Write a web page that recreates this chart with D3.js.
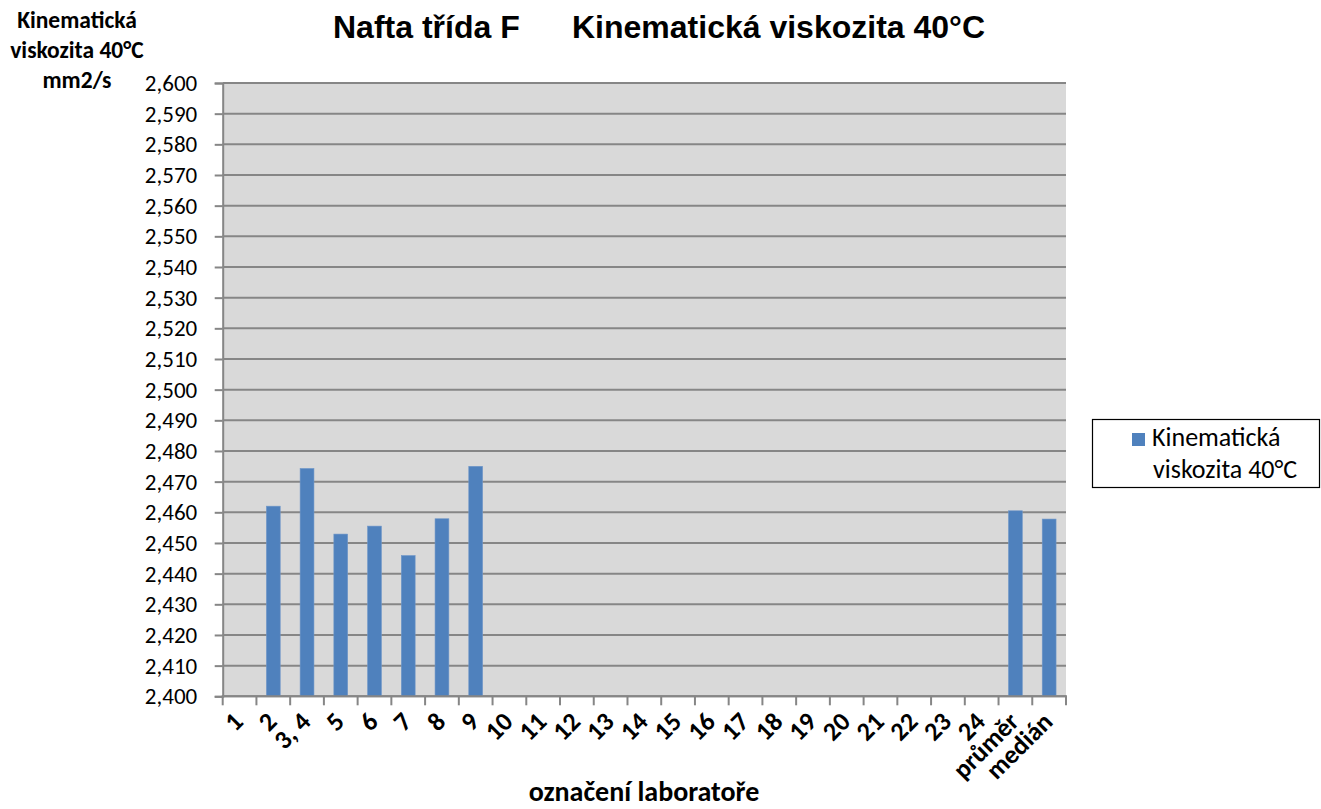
<!DOCTYPE html>
<html><head><meta charset="utf-8">
<script src="https://d3js.org/d3.v7.min.js"></script>
<style>
html,body{margin:0;padding:0;background:#fff;}
svg{display:block;}
</style></head>
<body>
<script>
const categories = ["1","2","3, 4","5","6","7","8","9","10","11","12","13","14","15","16","17","18","19","20","21","22","23","24","průměr","medián"];
const values = [null,2.462,2.4743,2.4529,2.4555,2.4459,2.4579,2.4750,null,null,null,null,null,null,null,null,null,null,null,null,null,null,null,2.4605,2.4578];
const seriesName = "Kinematická viskozita 40°C";
const yTicks = d3.range(2.400, 2.6001, 0.01);
const titleLeft = "Nafta třída F";
const titleRight = "Kinematická viskozita 40°C";
const yTitle = ["Kinematická","viskozita 40°C","mm2/s"];
const xTitle = "označení laboratoře";
const legendLines = ["Kinematická","viskozita 40°C"];

const W = 1321, H = 809;
const plot = {l: 222.7, r: 1066, t: 83, b: 696.3};
const font = "Carlito, Calibri, Lato, sans-serif";
const gridC = "#868686";

const svg = d3.select("body").append("svg").attr("width", W).attr("height", H);

const x = d3.scaleBand().domain(categories).range([plot.l, plot.r]).paddingInner(0.59).paddingOuter(0.295);
const y = d3.scaleLinear().domain([2.4, 2.6]).range([plot.b, plot.t]);

svg.append("rect").attr("x", plot.l).attr("y", plot.t).attr("width", plot.r - plot.l).attr("height", plot.b - plot.t).attr("fill", "#D9D9D9");

// gridlines
svg.append("g").selectAll("line").data(yTicks).join("line")
  .attr("x1", plot.l).attr("x2", plot.r)
  .attr("y1", d => y(d)).attr("y2", d => y(d))
  .attr("stroke", gridC).attr("stroke-width", 2);

// bars
const data = categories.map((c, i) => ({c, v: values[i]})).filter(d => d.v != null);
svg.append("g").selectAll("rect").data(data).join("rect")
  .attr("x", d => x(d.c)).attr("width", x.bandwidth())
  .attr("y", d => y(d.v)).attr("height", d => y(2.4) - y(d.v))
  .attr("fill", "#4F81BD").attr("stroke", "#7097C8").attr("stroke-width", 0.6);

// y axis
const fmt = v => d3.format(".3f")(v).replace(".", ",");
const yAxis = svg.append("g").attr("transform", `translate(${plot.l},0)`)
  .call(d3.axisLeft(y).tickValues(yTicks).tickSize(8).tickPadding(17.5).tickFormat(fmt));
yAxis.select(".domain").attr("stroke", gridC).attr("stroke-width", 2);
yAxis.selectAll(".tick line").attr("stroke", gridC).attr("stroke-width", 2);
yAxis.selectAll(".tick text").attr("font-family", font).attr("font-size", 23).attr("fill", "#000");

// x axis
const bounds = d3.range(categories.length + 1).map(i => plot.l + i * x.step());
const xg = svg.append("g");
xg.append("line").attr("x1", plot.l - 1).attr("x2", plot.r + 1).attr("y1", plot.b).attr("y2", plot.b).attr("stroke", gridC).attr("stroke-width", 2);
xg.selectAll("line.t").data(bounds).join("line").attr("class", "t")
  .attr("x1", d => d).attr("x2", d => d).attr("y1", plot.b).attr("y2", plot.b + 9)
  .attr("stroke", gridC).attr("stroke-width", 2);
xg.selectAll("text").data(categories).join("text")
  .attr("transform", d => `translate(${x(d) + x.bandwidth() / 2 + 5},${plot.b + 27}) rotate(-45)`)
  .attr("text-anchor", "end")
  .attr("font-family", font).attr("font-weight", "bold").attr("font-size", 26)
  .text(d => d);

// titles
const tt = svg.append("text").attr("y", 38).attr("font-family", "Liberation Sans, Arial, sans-serif").attr("font-weight", "bold").attr("font-size", 32);
tt.append("tspan").attr("x", 333).text(titleLeft);
tt.append("tspan").attr("x", 572).text(titleRight);

svg.append("g").selectAll("text").data(yTitle).join("text")
  .attr("x", 77).attr("y", (d, i) => 28 + i * 30)
  .attr("text-anchor", "middle").attr("font-family", font).attr("font-weight", "bold").attr("font-size", 23.5)
  .text(d => d);

svg.append("text").attr("x", 644).attr("y", 801).attr("text-anchor", "middle")
  .attr("font-family", font).attr("font-weight", "bold").attr("font-size", 28).text(xTitle);

// legend
const lg = svg.append("g");
lg.append("rect").attr("x", 1092.5).attr("y", 419.5).attr("width", 227).attr("height", 68).attr("fill", "#fff").attr("stroke", "#000").attr("stroke-width", 1.2);
lg.append("rect").attr("x", 1132).attr("y", 433).attr("width", 13).attr("height", 13).attr("fill", "#4F81BD");
const lt = lg.append("text").attr("font-family", font).attr("font-size", 26);
lt.append("tspan").attr("x", 1152).attr("y", 446).text(legendLines[0]);
lt.append("tspan").attr("x", 1153).attr("y", 478).text(legendLines[1]);
</script>
</body></html>
